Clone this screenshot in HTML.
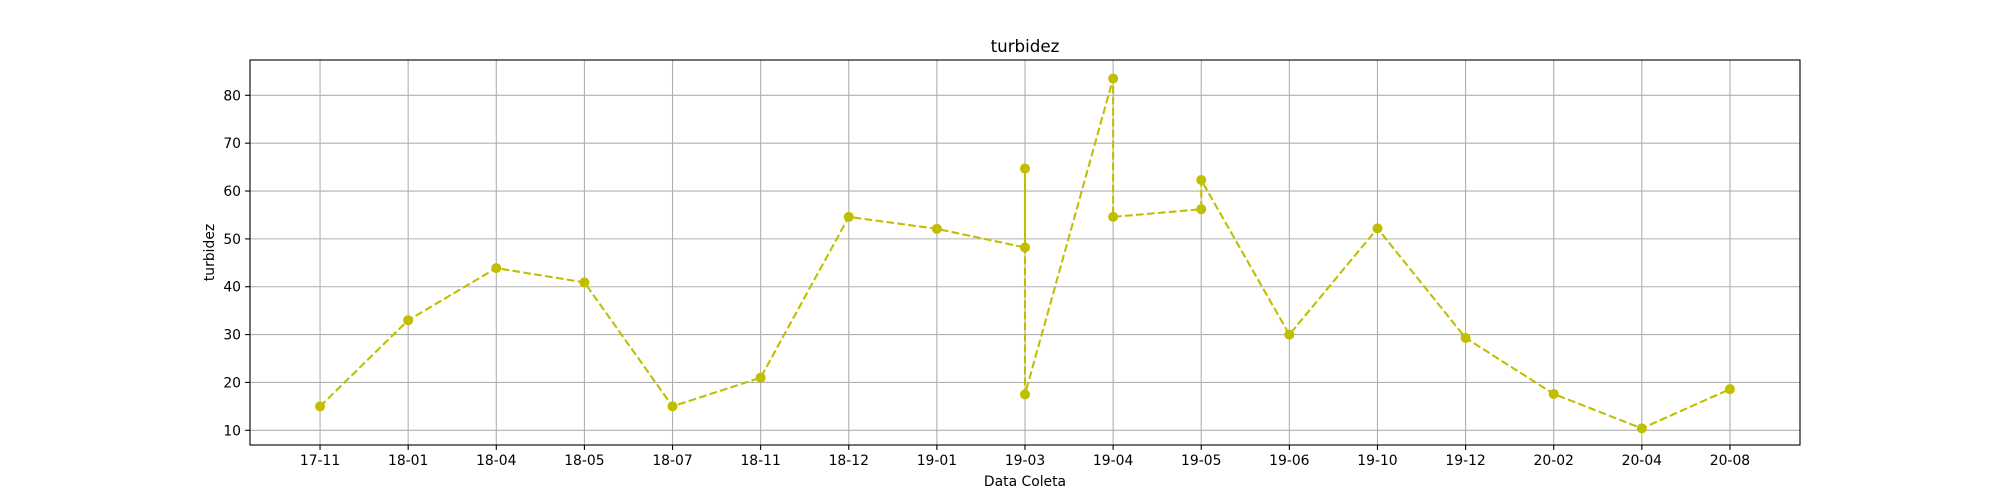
<!DOCTYPE html>
<html><head><meta charset="utf-8"><style>
html,body{margin:0;padding:0;background:#fff;}
svg{display:block;font-family:"DejaVu Sans","Liberation Sans",sans-serif;}
</style></head><body>
<svg id="chart" width="2000" height="500" viewBox="0 0 2000 500" xmlns="http://www.w3.org/2000/svg">
<rect width="2000" height="500" fill="#fff"/>
<g id="grid"></g>
<g id="series"></g>
<rect x="250" y="60" width="1550" height="385" fill="none" stroke="#000" stroke-width="1.1"/>
<g id="xticks"></g>
<g id="yticks"></g>
<text x="1025" y="52" text-anchor="middle" font-size="16.7">turbidez</text>
<text x="1025" y="486" text-anchor="middle" font-size="13.9">Data Coleta</text>
<text transform="translate(214,252.5) rotate(-90)" text-anchor="middle" font-size="13.9">turbidez</text>
</svg>
<script>
const categories = ["17-11","18-01","18-04","18-05","18-07","18-11","18-12","19-01","19-03","19-04","19-05","19-06","19-10","19-12","20-02","20-04","20-08"];
const pointCats = ["17-11","18-01","18-04","18-05","18-07","18-11","18-12","19-01","19-03","19-03","19-03","19-04","19-04","19-05","19-05","19-06","19-10","19-12","20-02","20-04","20-08"];
const pointValues = [15.0,33.0,43.9,40.9,15.0,21.0,54.6,52.1,48.2,64.7,17.5,83.5,54.6,56.2,62.3,30.0,52.2,29.3,17.6,10.4,18.6];
const yTicks = [10,20,30,40,50,60,70,80];

const NS="http://www.w3.org/2000/svg";
const L=250,R=1800,T=60,B=445;
const xMin=-0.795,xMax=categories.length-1+0.795;
const yMin=6.93,yMax=87.38;
const xs=i=>L+(i-xMin)/(xMax-xMin)*(R-L);
const ys=v=>B-(v-yMin)/(yMax-yMin)*(B-T);
function mk(tag,attrs,parent){const e=document.createElementNS(NS,tag);for(const k in attrs)e.setAttribute(k,attrs[k]);parent.appendChild(e);return e;}
const grid=document.getElementById('grid'),xt=document.getElementById('xticks'),yt=document.getElementById('yticks'),ser=document.getElementById('series');
categories.forEach((c,i)=>{
  const x=xs(i);
  const g=mk('line',{x1:x,x2:x,y1:T,y2:B,stroke:'#b0b0b0','stroke-width':1.1},grid);
  
  
  const t=mk('line',{x1:x,x2:x,y1:B,y2:B+4.9,stroke:'#000','stroke-width':1.1},xt);
  
  
  const lb=mk('text',{x:x,y:B+20,'text-anchor':'middle','font-size':13.9},xt);
  lb.textContent=c;
  
  
});
yTicks.forEach(v=>{
  const y=ys(v);
  const g=mk('line',{x1:L,x2:R,y1:y,y2:y,stroke:'#b0b0b0','stroke-width':1.1},grid);
  
  
  const t=mk('line',{x1:L-4.9,x2:L,y1:y,y2:y,stroke:'#000','stroke-width':1.1},yt);
  
  
  const lb=mk('text',{x:L-9,y:y+5,'text-anchor':'end','font-size':13.9},yt);
  lb.textContent=v;
  
  
});
const pts=pointCats.map((c,i)=>[xs(categories.indexOf(c)),ys(pointValues[i])]);
const line=mk('polyline',{points:pts.map(p=>p.join(',')).join(' '),fill:'none',stroke:'#bfbf00','stroke-width':2.08,'stroke-dasharray':'7.7,3.3'},ser);


pts.forEach(p=>{
  const c=mk('circle',{cx:p[0],cy:p[1],r:5,fill:'#bfbf00'},ser);
  
  
});
</script>
</body></html>
